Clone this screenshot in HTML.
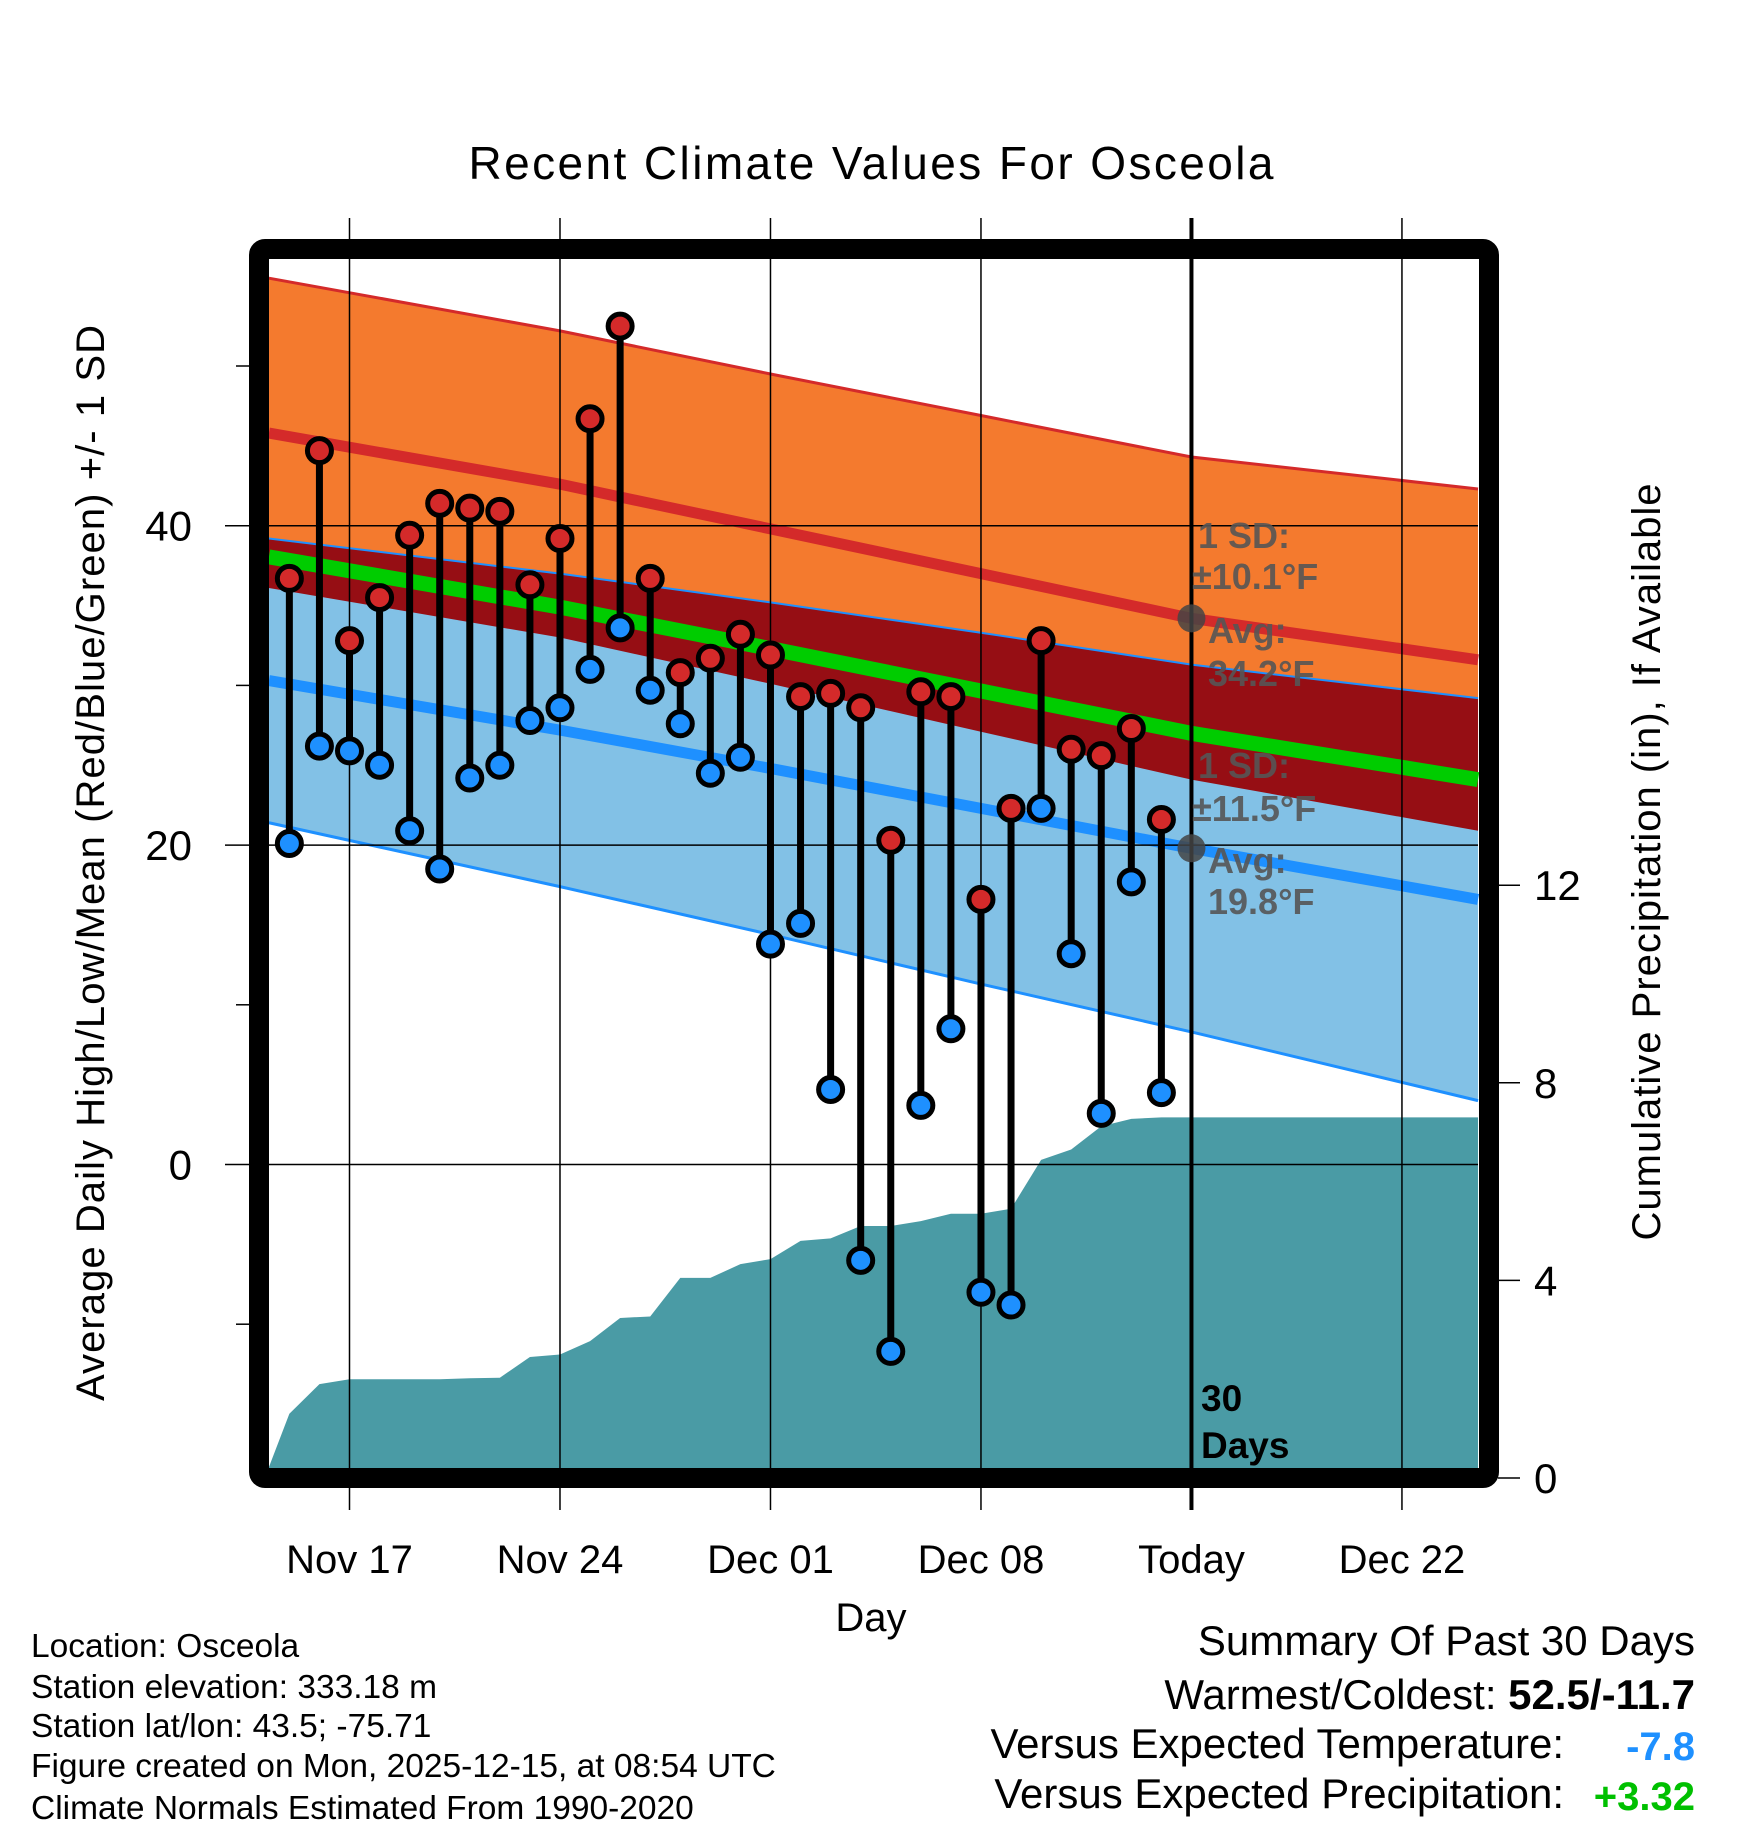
<!DOCTYPE html>
<html><head><meta charset="utf-8"><style>
html,body{margin:0;padding:0;background:#fff}
svg{display:block}
text{font-family:"Liberation Sans",sans-serif}
</style></head><body>
<svg id="chart" width="1748" height="1828" viewBox="0 0 1748 1828" xmlns="http://www.w3.org/2000/svg">
<g id="bands"></g><g id="precip"></g><g id="grid"></g><g id="marks"></g><g id="annot"></g><g id="frame"></g><g id="labels"></g>
</svg>
<script>
// ---- data ----
const days = ["Nov 15","Nov 16","Nov 17","Nov 18","Nov 19","Nov 20","Nov 21","Nov 22","Nov 23","Nov 24","Nov 25","Nov 26","Nov 27","Nov 28","Nov 29","Nov 30","Dec 01","Dec 02","Dec 03","Dec 04","Dec 05","Dec 06","Dec 07","Dec 08","Dec 09","Dec 10","Dec 11","Dec 12","Dec 13","Dec 14"];
const highs = [36.7,44.7,32.8,35.5,39.4,41.4,41.1,40.9,36.3,39.2,46.7,52.5,36.7,30.8,31.7,33.2,31.9,29.3,29.5,28.6,20.3,29.6,29.3,16.6,22.3,32.8,26.0,25.6,27.3,21.6];
const lows = [20.1,26.2,25.9,25.0,20.9,18.5,24.2,25.0,27.8,28.6,31.0,33.6,29.7,27.6,24.5,25.5,13.8,15.1,4.7,-6.0,-11.7,3.7,8.5,-8.0,-8.8,22.3,13.2,3.2,17.7,4.5];
const precipCum = [1.3,1.9,2.0,2.0,2.0,2.0,2.02,2.03,2.45,2.5,2.77,3.24,3.27,4.05,4.05,4.33,4.43,4.8,4.85,5.1,5.1,5.2,5.35,5.35,5.45,6.44,6.65,7.12,7.27,7.3];
const normDays = [-2.68,7,14,21,28,37.53];
const highMean = [45.8,42.6,39.8,37.0,34.2,31.6];
const highSD = [9.7,9.6,9.7,9.9,10.1,10.7];
const lowMean = [30.3,27.2,24.8,22.3,19.8,16.6];
const lowSD = [8.9,9.8,10.4,11.0,11.5,12.6];
const xTickLabels = ["Nov 17","Nov 24","Dec 01","Dec 08","Today","Dec 22"];
const yTicks = [0,20,40];
const yMinor = [-10,10,30,50];
const rTicks = [0,4,8,12];

// ---- axes ----
const X = d => 349.5 + d*30.07;
const Y = v => 1164.5 - v*15.97;
const RY = v => 1478 - v*49.4;
const NS = "http://www.w3.org/2000/svg";
function mk(tag, parent, attrs){const e=document.createElementNS(NS,tag);for(const k in attrs)e.setAttribute(k,attrs[k]);document.getElementById(parent).appendChild(e);return e;}
const pts = arr => normDays.map((d,i)=>X(d)+","+Y(arr[i]));
const hiTop = highMean.map((m,i)=>m+highSD[i]);
const hiBot = highMean.map((m,i)=>m-highSD[i]);
const loTop = lowMean.map((m,i)=>m+lowSD[i]);
const loBot = lowMean.map((m,i)=>m-lowSD[i]);
const midMean = highMean.map((m,i)=>(m+lowMean[i])/2);

let e;
e=mk("polygon","bands",{points:pts(hiTop).concat(pts(hiBot).reverse()).join(" "),fill:"#F47A2E"});


e=mk("polygon","bands",{points:pts(loTop).concat(pts(loBot).reverse()).join(" "),fill:"#82C1E6"});


e=mk("polygon","bands",{points:pts(loTop).concat(pts(hiBot).reverse()).join(" "),fill:"#960E14"});


function line(arr,color,w,name){const l=mk("polyline","bands",{points:pts(arr).join(" "),fill:"none",stroke:color,"stroke-width":w});

}
line(hiTop,"#D42A2A",3,"high-plus-sd-line");
line(loTop,"#1E90FF",2,"low-plus-sd-line");
line(loBot,"#1E90FF",3,"low-minus-sd-line");
line(highMean,"#D42A2A",11,"high-mean-line");
line(lowMean,"#1E90FF",11,"low-mean-line");
line(midMean,"#00CC00",15,"mean-line");

// precip area
{
  let p=[X(-2.68)+","+1468, X(-2.68)+","+RY(0.22)];
  precipCum.forEach((v,i)=>p.push(X(i-2)+","+RY(v)));
  p.push(X(37.53)+","+RY(precipCum[precipCum.length-1]));
  p.push(X(37.53)+",1468");
  e=mk("polygon","precip",{points:p.join(" "),fill:"#4A9BA5"});
  
  
}

// grid
xTickLabels.forEach((lab,i)=>{
  const x=X(i*7);
  e=mk("line","grid",{x1:x,x2:x,y1:218,y2:1510,stroke:"#000","stroke-width":lab==="Today"?4:1.5});
  
  
  e=mk("text","labels",{x:x,y:1573,"text-anchor":"middle","font-size":40,fill:"#000"});
  e.textContent=lab;
  
  
});
yTicks.forEach(v=>{
  const y=Y(v);
  e=mk("line","grid",{x1:225,x2:1478,y1:y,y2:y,stroke:"#000","stroke-width":1.5});
  
  
  e=mk("text","labels",{x:192,y:y+15,"text-anchor":"end","font-size":42,fill:"#000"});
  e.textContent=String(v);
  
  
});
yMinor.forEach(v=>{
  e=mk("line","grid",{x1:236,x2:250,y1:Y(v),y2:Y(v),stroke:"#000","stroke-width":1.5});
  
  
});
rTicks.forEach(v=>{
  const y=RY(v);
  e=mk("line","grid",{x1:1498,x2:1520,y1:y,y2:y,stroke:"#000","stroke-width":1.5});
  
  
  e=mk("text","labels",{x:1534,y:y+15,"text-anchor":"start","font-size":42,fill:"#000"});
  e.textContent=String(v);
  
  
});

// marks
days.forEach((d,i)=>{
  const x=X(i-2);
  e=mk("line","marks",{x1:x,x2:x,y1:Y(highs[i]),y2:Y(lows[i]),stroke:"#000","stroke-width":7});
  
  
});
days.forEach((d,i)=>{
  const x=X(i-2);
  e=mk("circle","marks",{cx:x,cy:Y(highs[i]),r:12,fill:"#D42A2A",stroke:"#000","stroke-width":5});
  
  
  e=mk("circle","marks",{cx:x,cy:Y(lows[i]),r:12,fill:"#1E90FF",stroke:"#000","stroke-width":5});
  
  
});

// annotations
const tx=X(28);
[highMean[4],lowMean[4]].forEach(v=>{
  e=mk("circle","annot",{cx:tx,cy:Y(v),r:14,fill:"#444","fill-opacity":0.85});
  
  
});
const ann=[["1 SD:",1198,548],["±10.1°F",1192,589],["Avg:",1208,643],["34.2°F",1208,686],["1 SD:",1198,778],["±11.5°F",1192,821],["Avg:",1208,873],["19.8°F",1208,914]];
ann.forEach(a=>{
  e=mk("text","annot",{x:a[1],y:a[2],"font-size":36,"font-weight":"bold",fill:"#555","fill-opacity":0.9});
  e.textContent=a[0];
  
  
});
[["30",1201,1411],["Days",1201,1458]].forEach(a=>{
  e=mk("text","annot",{x:a[1],y:a[2],"font-size":37,"font-weight":"bold",fill:"#000"});
  e.textContent=a[0];
  
  
});

// frame
e=mk("rect","frame",{x:259,y:249,width:1230,height:1229,fill:"none",stroke:"#000","stroke-width":20,rx:6});



// labels
function T(txt,x,y,size,attrs,name){const t=mk("text","labels",Object.assign({x:x,y:y,"font-size":size,fill:"#000"},attrs||{}));t.textContent=txt;

return t;}
T("Recent Climate Values For Osceola",871,179,46,{"text-anchor":"middle",textLength:805},"chart-title");
T("Day",871,1631,40,{"text-anchor":"middle"},"x-axis-title");
T("Average Daily High/Low/Mean (Red/Blue/Green) +/- 1 SD",0,0,40,{"text-anchor":"middle",transform:"translate(104,863) rotate(-90)",textLength:1076},"y-axis-title");
T("Cumulative Precipitation (in), If Available",0,0,40,{"text-anchor":"middle",transform:"translate(1660,862) rotate(-90)",textLength:757},"right-axis-title");
const foot=["Location: Osceola","Station elevation: 333.18 m","Station lat/lon: 43.5; -75.71","Figure created on Mon, 2025-12-15, at 08:54 UTC","Climate Normals Estimated From 1990-2020"];
const fy=[1657,1698,1737,1777,1819];
foot.forEach((s,i)=>T(s,31,fy[i],33.5,{},"footer-info"));
T("Summary Of Past 30 Days",1695,1655,42,{"text-anchor":"end"},"summary-title");
{
  const t=mk("text","labels",{x:1695,y:1709,"font-size":42,"text-anchor":"end",fill:"#000"});
  
  
  const a=document.createElementNS(NS,"tspan");a.textContent="Warmest/Coldest: ";t.appendChild(a);
  const b=document.createElementNS(NS,"tspan");b.setAttribute("font-weight","bold");b.textContent="52.5/-11.7";t.appendChild(b);
}
T("Versus Expected Temperature:",1564,1758,42,{"text-anchor":"end"},"summary-temp-label");
T("-7.8",1695,1760,40,{"text-anchor":"end","font-weight":"bold",fill:"#1E90FF"},"summary-temp-value");
T("Versus Expected Precipitation:",1564,1808,42,{"text-anchor":"end"},"summary-precip-label");
T("+3.32",1695,1810,40,{"text-anchor":"end","font-weight":"bold",fill:"#00C000"},"summary-precip-value");
</script>
</body></html>
